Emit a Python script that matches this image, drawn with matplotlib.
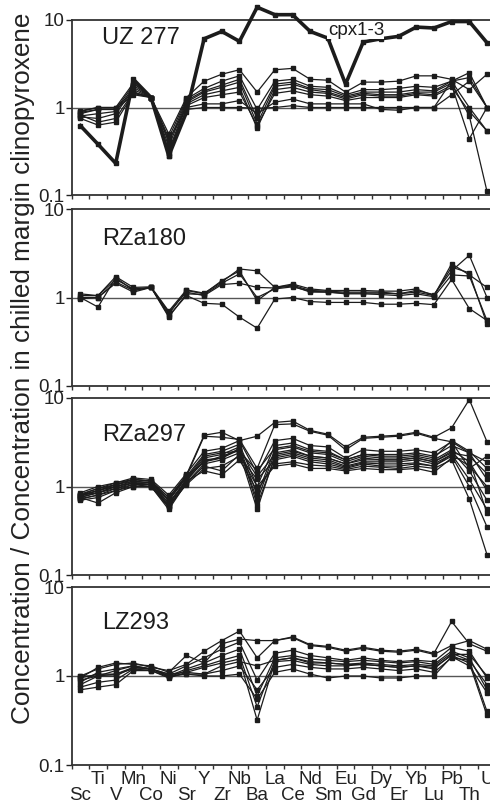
import numpy as np
import matplotlib
matplotlib.use('Agg')
import matplotlib.pyplot as plt
from matplotlib.ticker import FixedLocator, NullLocator

plt.rcParams['font.family'] = ['Liberation Sans', 'DejaVu Sans']

elements = ['Sc', 'Ti', 'V', 'Mn', 'Co', 'Ni', 'Sr', 'Y', 'Zr', 'Nb', 'Ba', 'La',
            'Ce', 'Nd', 'Sm', 'Eu', 'Gd', 'Dy', 'Er', 'Yb', 'Lu', 'Pb', 'Th', 'U']

# UZ 277: thick line is cpx1-3
uz277_cpx = [0.62, 0.38, 0.23, 2.1, 1.3, 0.28, 0.88, 6.1, 7.4, 5.7, 14.0, 11.5,
             11.5, 7.4, 6.2, 1.85, 5.6, 6.1, 6.5, 8.3, 8.1, 9.6, 9.6, 5.5]
uz277 = [
    [0.90, 1.00, 1.00, 1.9, 1.3, 0.50, 1.30, 2.00, 2.4, 2.7, 1.50, 2.70, 2.80, 2.10, 2.05, 1.50, 1.95, 1.95, 2.00, 2.30, 2.30, 2.1, 1.60, 2.40],
    [0.85, 0.95, 0.95, 1.8, 1.3, 0.45, 1.25, 1.65, 2.0, 2.3, 0.95, 2.00, 2.10, 1.75, 1.70, 1.40, 1.60, 1.60, 1.65, 1.75, 1.70, 2.0, 2.50, 1.00],
    [0.80, 0.85, 0.90, 1.7, 1.3, 0.40, 1.20, 1.55, 1.8, 2.1, 0.75, 1.85, 1.95, 1.65, 1.60, 1.35, 1.50, 1.50, 1.50, 1.60, 1.55, 2.0, 1.00, 0.54],
    [0.78, 0.75, 0.85, 1.6, 1.3, 0.36, 1.15, 1.50, 1.7, 1.95, 0.65, 1.75, 1.85, 1.60, 1.50, 1.30, 1.45, 1.40, 1.40, 1.50, 1.50, 1.9, 0.80, 0.11],
    [0.82, 0.68, 0.75, 1.5, 1.3, 0.32, 1.10, 1.40, 1.55, 1.7, 0.58, 1.60, 1.70, 1.50, 1.45, 1.25, 1.40, 1.35, 1.35, 1.45, 1.40, 1.8, 0.44, 1.00],
    [0.75, 0.63, 0.68, 1.45, 1.3, 0.30, 1.05, 1.30, 1.4, 1.5, 0.62, 1.45, 1.55, 1.40, 1.35, 1.20, 1.30, 1.30, 1.30, 1.40, 1.35, 1.7, 0.90, 0.54],
    [0.88, 0.95, 0.95, 1.4, 1.3, 0.42, 1.00, 1.10, 1.1, 1.2, 0.85, 1.15, 1.25, 1.10, 1.10, 1.10, 1.10, 0.95, 0.93, 1.00, 1.00, 1.4, 2.00, 1.00],
    [0.92, 1.00, 1.00, 1.5, 1.3, 0.28, 0.95, 1.00, 1.0, 1.0, 0.98, 1.00, 1.05, 1.00, 1.00, 1.00, 1.00, 1.00, 1.00, 1.00, 1.00, 2.0, 2.20, 1.00],
]

rza180 = [
    [1.00, 0.78, 1.68, 1.20, 1.30, 0.62, 1.05, 0.86, 0.84, 0.60, 0.45, 0.96, 1.00, 0.90, 0.88, 0.88, 0.88, 0.84, 0.84, 0.86, 0.83, 1.6, 0.75, 0.55],
    [1.10, 1.05, 1.72, 1.30, 1.32, 0.70, 1.22, 1.12, 1.50, 2.10, 2.00, 1.30, 1.42, 1.25, 1.20, 1.20, 1.20, 1.18, 1.18, 1.25, 1.05, 2.4, 1.80, 1.30],
    [1.05, 1.05, 1.60, 1.25, 1.30, 0.65, 1.20, 1.10, 1.55, 2.00, 0.92, 1.30, 1.38, 1.20, 1.18, 1.15, 1.15, 1.15, 1.10, 1.15, 1.05, 2.2, 1.90, 0.50],
    [1.00, 1.00, 1.45, 1.15, 1.30, 0.68, 1.15, 1.05, 1.40, 1.45, 1.30, 1.28, 1.35, 1.15, 1.15, 1.12, 1.12, 1.12, 1.10, 1.20, 1.08, 2.0, 3.00, 1.00],
    [0.97, 1.00, 1.50, 1.20, 1.30, 0.60, 1.10, 1.08, 1.45, 1.85, 1.00, 1.25, 1.32, 1.18, 1.15, 1.10, 1.10, 1.08, 1.05, 1.10, 1.02, 1.8, 1.75, 0.55],
]

rza297 = [
    [0.80, 0.95, 1.10, 1.20, 1.15, 0.75, 1.35, 3.8, 4.1, 3.3, 3.7, 5.3, 5.5, 4.3, 3.9, 2.8, 3.6, 3.7, 3.8, 4.1, 3.6, 4.6, 9.6, 3.2],
    [0.78, 0.90, 1.05, 1.15, 1.10, 0.70, 1.30, 3.7, 3.6, 3.4, 1.6, 5.0, 5.1, 4.2, 3.8, 2.6, 3.5, 3.6, 3.7, 4.0, 3.5, 3.2, 2.4, 1.9],
    [0.85, 1.00, 1.10, 1.25, 1.20, 0.80, 1.40, 2.5, 2.7, 3.3, 1.4, 3.3, 3.5, 2.9, 2.8, 2.1, 2.6, 2.5, 2.5, 2.6, 2.4, 3.2, 1.6, 2.2],
    [0.80, 0.90, 1.05, 1.20, 1.15, 0.70, 1.30, 2.3, 2.5, 3.0, 1.0, 2.9, 3.1, 2.6, 2.5, 2.0, 2.3, 2.3, 2.3, 2.4, 2.2, 2.9, 2.4, 1.2],
    [0.75, 0.85, 1.00, 1.10, 1.10, 0.65, 1.20, 2.1, 2.3, 2.8, 0.8, 2.6, 2.8, 2.4, 2.3, 1.9, 2.2, 2.1, 2.1, 2.2, 2.0, 2.6, 1.9, 0.9],
    [0.72, 0.80, 0.95, 1.05, 1.05, 0.60, 1.15, 2.0, 2.1, 2.6, 0.7, 2.4, 2.6, 2.2, 2.1, 1.8, 2.0, 2.0, 2.0, 2.1, 1.9, 2.5, 1.5, 0.7],
    [0.70, 0.75, 0.90, 1.00, 1.00, 0.55, 1.10, 1.8, 2.0, 2.4, 0.55, 2.2, 2.4, 2.1, 2.0, 1.7, 1.9, 1.9, 1.9, 2.0, 1.8, 2.3, 1.2, 0.55],
    [0.75, 0.65, 0.85, 1.00, 1.00, 0.60, 1.05, 1.6, 1.7, 2.2, 1.2, 2.0, 2.2, 1.9, 1.8, 1.6, 1.8, 1.7, 1.7, 1.8, 1.7, 2.2, 1.0, 0.35],
    [0.80, 0.85, 0.95, 1.10, 1.05, 0.65, 1.15, 1.5, 1.35, 2.0, 0.9, 1.8, 1.9, 1.75, 1.7, 1.55, 1.7, 1.65, 1.6, 1.7, 1.6, 2.0, 0.72, 0.17],
    [0.73, 0.80, 0.90, 1.05, 1.00, 0.58, 1.10, 1.7, 1.5, 2.3, 1.0, 1.7, 1.8, 1.6, 1.6, 1.5, 1.6, 1.55, 1.55, 1.6, 1.45, 2.1, 2.0, 0.5],
    [0.78, 0.90, 1.00, 1.15, 1.10, 0.70, 1.25, 2.2, 2.4, 2.5, 1.5, 2.7, 2.9, 2.5, 2.4, 2.0, 2.3, 2.2, 2.2, 2.3, 2.1, 3.3, 2.5, 1.6],
    [0.82, 0.95, 1.05, 1.20, 1.15, 0.75, 1.30, 1.9, 2.2, 2.6, 1.3, 2.3, 2.5, 2.2, 2.1, 1.8, 2.1, 2.0, 2.0, 2.1, 1.9, 2.4, 2.2, 1.4],
    [0.76, 0.85, 1.00, 1.10, 1.05, 0.62, 1.20, 1.9, 2.1, 2.7, 0.62, 2.1, 2.3, 2.0, 1.9, 1.65, 1.85, 1.8, 1.8, 1.85, 1.7, 2.3, 1.7, 1.0],
]

lz293 = [
    [1.00, 1.20, 1.35, 1.40, 1.25, 1.15, 1.35, 1.90, 2.5, 3.20, 1.60, 2.50, 2.75, 2.25, 2.15, 1.95, 2.10, 1.95, 1.90, 2.00, 1.80, 4.10, 2.30, 1.90],
    [0.95, 1.25, 1.40, 1.35, 1.30, 1.10, 1.70, 1.40, 2.3, 2.60, 2.50, 2.50, 2.70, 2.20, 2.10, 1.90, 2.05, 1.90, 1.85, 1.95, 1.75, 2.20, 2.50, 2.00],
    [0.85, 1.10, 1.20, 1.30, 1.20, 1.05, 1.30, 1.60, 2.0, 2.40, 0.90, 1.80, 1.95, 1.70, 1.60, 1.50, 1.60, 1.50, 1.45, 1.50, 1.45, 2.10, 1.90, 0.95],
    [0.80, 1.00, 1.05, 1.25, 1.20, 1.00, 1.20, 1.40, 1.7, 2.00, 0.60, 1.60, 1.70, 1.55, 1.50, 1.45, 1.50, 1.45, 1.40, 1.45, 1.35, 1.90, 1.60, 0.70],
    [0.75, 0.85, 0.90, 1.20, 1.15, 0.98, 1.15, 1.30, 1.5, 1.70, 0.45, 1.50, 1.60, 1.45, 1.40, 1.35, 1.40, 1.35, 1.30, 1.35, 1.30, 1.80, 1.50, 0.40],
    [0.70, 0.75, 0.80, 1.15, 1.15, 0.95, 1.10, 1.25, 1.4, 1.55, 0.32, 1.45, 1.50, 1.35, 1.30, 1.30, 1.35, 1.30, 1.25, 1.30, 1.25, 1.70, 1.40, 0.36],
    [0.90, 1.00, 1.15, 1.30, 1.20, 1.05, 1.10, 1.05, 1.3, 1.45, 1.30, 1.50, 1.60, 1.40, 1.40, 1.35, 1.35, 1.30, 1.25, 1.30, 1.20, 1.75, 1.75, 1.00],
    [0.95, 1.05, 1.05, 1.20, 1.20, 1.00, 1.05, 1.00, 1.0, 1.05, 0.55, 1.10, 1.20, 1.05, 0.95, 1.00, 1.00, 0.95, 0.95, 1.00, 1.00, 1.65, 1.30, 0.65],
    [1.00, 1.00, 1.00, 1.25, 1.20, 1.00, 1.05, 1.05, 1.15, 1.30, 0.70, 1.25, 1.35, 1.25, 1.20, 1.20, 1.25, 1.20, 1.15, 1.20, 1.10, 1.60, 1.50, 0.80],
]

panel_names = ['UZ 277', 'RZa180', 'RZa297', 'LZ293']
panel_sets = [uz277, rza180, rza297, lz293]
name_y = [0.90, 0.828, 0.79, 0.80]

fig = plt.figure(figsize=(4.9, 8.07), dpi=100)
H = 807.0
tops = [20, 209, 398, 587]
bots = [195, 386, 575, 765]
left = 71.5 / 490
x = np.arange(len(elements))
ink = '#1c1c1c'

for k in range(4):
    ax = fig.add_axes([left, 1 - bots[k] / H, 1 - left, (bots[k] - tops[k]) / H])
    ax.set_yscale('log')
    ax.set_ylim(0.1, 10)
    ax.set_xlim(-0.5, 23.17)
    ax.axhline(1, color='#555555', lw=1.0, zorder=1)

    for row in panel_sets[k]:
        ax.plot(x, row, color=ink, lw=0.9, marker='s', ms=2.2, zorder=3)
    if k == 0:
        ax.plot(x, uz277_cpx, color=ink, lw=2.6, marker='s', ms=2.5,
                zorder=4, clip_on=False)
        ax.text(14.0, 7.6, 'cpx1-3', fontsize=13.5, ha='left', va='center',
                color=ink, zorder=5,
                bbox=dict(facecolor='white', edgecolor='none', pad=0.3))

    ax.text(0.073, name_y[k], panel_names[k], transform=ax.transAxes,
            fontsize=17, ha='left', va='center', color=ink)

    for s in ['left', 'bottom', 'top']:
        ax.spines[s].set_linewidth(1.3)
        ax.spines[s].set_color('#333333')
    ax.spines['right'].set_visible(False)

    ax.yaxis.set_major_locator(FixedLocator([0.1, 1, 10]))
    ax.yaxis.set_minor_locator(NullLocator())
    ax.set_yticklabels(['0.1', '1', '10'])
    ax.tick_params(axis='y', which='major', length=4, width=1, pad=1,
                   labelsize=13.5, colors='#222222')

    ax.xaxis.set_minor_locator(FixedLocator(np.arange(-0.5, 23.5, 1.0)))
    ax.tick_params(axis='x', which='minor', length=3, width=1, color='#333333')
    if k == 3:
        labels = [(e if i % 2 else '\n' + e) for i, e in enumerate(elements)]
        ax.set_xticks(x)
        ax.set_xticklabels(labels, linespacing=0.95)
        ax.tick_params(axis='x', which='major', length=0, pad=4,
                       labelsize=13.5, colors='#222222')
    else:
        ax.set_xticks([])

fig.text(0.047, 1 - 368 / H,
         'Concentration / Concentration in chilled margin clinopyroxene',
         rotation=90, ha='center', va='center', fontsize=18.8, color='#222222')

fig.savefig('out.png', dpi=100)
